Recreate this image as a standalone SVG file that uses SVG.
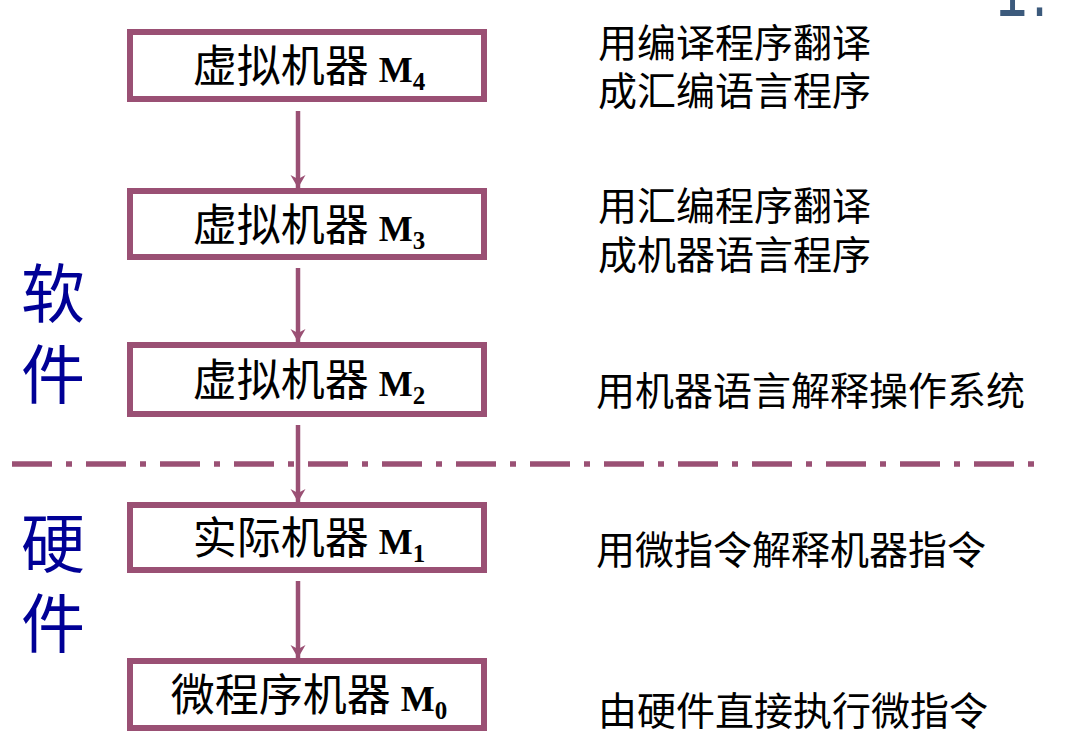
<svg xmlns="http://www.w3.org/2000/svg" width="1071" height="746" viewBox="0 0 1071 746">
<style>
.box{fill:#ffffff;stroke:#9a5074;stroke-width:6}
.bt{font-family:"Noto Sans CJK SC","Noto Sans CJK TC",sans-serif;font-size:44px;fill:#000000;text-anchor:middle}
.m{font-family:"Liberation Serif",serif;font-weight:bold;font-size:36px}
.sub{font-family:"Liberation Serif",serif;font-weight:bold;font-size:25px}
.rt{font-family:"Noto Sans CJK SC","Noto Sans CJK TC",sans-serif;font-size:39px;fill:#000000}
.side{font-family:"Noto Sans CJK SC","Noto Sans CJK TC",sans-serif;font-size:64px;fill:#000096;text-anchor:middle}
.conn{stroke:#9a5074;stroke-width:4.5;fill:none}
</style>
<defs>
<marker id="ah" markerUnits="userSpaceOnUse" markerWidth="16" markerHeight="18" viewBox="-13 -9 14 18" refX="0" refY="0" orient="auto">
<path d="M0,0 L-13,-7.5 L-9,0 L-13,7.5 Z" fill="#9a5074"/>
</marker>
</defs>
<rect width="1071" height="746" fill="#ffffff"/>
<text transform="scale(0.7,1)" font-family="Liberation Sans,sans-serif" font-size="80" fill="#3c5a7c"><tspan x="1423" y="16">1</tspan><tspan x="1474" y="16">.</tspan></text>
<g id="connectors">
<line class="conn" x1="298" y1="111" x2="298" y2="188" marker-end="url(#ah)"/>
<line class="conn" x1="298" y1="268" x2="298" y2="342" marker-end="url(#ah)"/>
<line class="conn" x1="298" y1="425" x2="298" y2="502" marker-end="url(#ah)"/>
<line class="conn" x1="298" y1="581" x2="298" y2="658" marker-end="url(#ah)"/>
</g>
<g id="divider">
<line x1="12" y1="464" x2="1034" y2="464" stroke="#9a5074" stroke-width="5.5" stroke-dasharray="40 14 6 14"/>
</g>
<g id="m4">
<rect class="box" x="130" y="32" width="354" height="67"/>
<text class="bt" x="309" y="82">虚拟机器 <tspan class="m">M</tspan><tspan class="sub" dy="8">4</tspan></text>
</g>
<g id="m3">
<rect class="box" x="130" y="191" width="354" height="66"/>
<text class="bt" x="309" y="240.5">虚拟机器 <tspan class="m">M</tspan><tspan class="sub" dy="8">3</tspan></text>
</g>
<g id="m2">
<rect class="box" x="130" y="345" width="354" height="69"/>
<text class="bt" x="309" y="396">虚拟机器 <tspan class="m">M</tspan><tspan class="sub" dy="8">2</tspan></text>
</g>
<g id="m1">
<rect class="box" x="130" y="505" width="354" height="65"/>
<text class="bt" x="309" y="554">实际机器 <tspan class="m">M</tspan><tspan class="sub" dy="8">1</tspan></text>
</g>
<g id="m0">
<rect class="box" x="130" y="661" width="354" height="67"/>
<text class="bt" x="309" y="711">微程序机器 <tspan class="m">M</tspan><tspan class="sub" dy="8">0</tspan></text>
</g>
<g id="labels">
<text class="rt" x="598" y="57">用编译程序翻译</text>
<text class="rt" x="598" y="105">成汇编语言程序</text>
<text class="rt" x="598" y="220">用汇编程序翻译</text>
<text class="rt" x="598" y="269">成机器语言程序</text>
<text class="rt" x="596" y="405">用机器语言解释操作系统</text>
<text class="rt" x="596" y="564">用微指令解释机器指令</text>
<text class="rt" x="598" y="725">由硬件直接执行微指令</text>
</g>
<g id="side">
<text class="side" x="53" y="317">软</text>
<text class="side" x="53" y="398">件</text>
<text class="side" x="53" y="567">硬</text>
<text class="side" x="53" y="647">件</text>
</g>
</svg>
